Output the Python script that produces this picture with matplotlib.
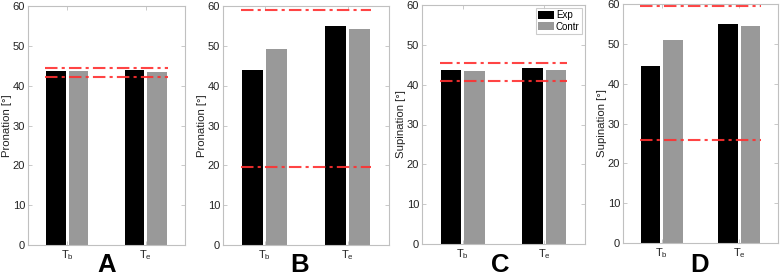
import matplotlib
matplotlib.use("Agg")
import matplotlib.pyplot as plt
import numpy as np

plt.rcParams['font.family'] = ['Liberation Sans', 'DejaVu Sans']
plt.rcParams['mathtext.fontset'] = 'custom'
plt.rcParams['mathtext.rm'] = 'Liberation Sans'

categories = [r'$\mathrm{T_b}$', r'$\mathrm{T_e}$']
series_names = ['Exp', 'Contr']
panel_letters = ['A', 'B', 'C', 'D']
ylabels = ['Pronation [°]', 'Pronation [°]', 'Supination [°]', 'Supination [°]']

exp_A = [43.6, 43.9]
contr_A = [43.6, 43.4]
ref_A = [44.4, 42.1]

exp_B = [44.0, 54.9]
contr_B = [49.3, 54.2]
ref_B = [59.0, 19.5]

exp_C = [43.8, 44.1]
contr_C = [43.4, 43.7]
ref_C = [45.4, 41.0]

exp_D = [44.4, 54.9]
contr_D = [51.0, 54.5]
ref_D = [59.6, 25.8]

panels = [(exp_A, contr_A, ref_A), (exp_B, contr_B, ref_B),
          (exp_C, contr_C, ref_C), (exp_D, contr_D, ref_D)]

W, H = 783, 278
fig = plt.figure(figsize=(W/100, H/100), dpi=100)

# axes boxes in pixels: left, right, top, bottom
boxes = [(28, 185, 6, 245), (223, 389, 6, 245), (422, 585, 5, 244), (623, 778, 4, 243)]
letter_x = [107, 300, 500, 700]
spine_col = '#c0c0c0'
x = np.arange(1, len(categories) + 1)
bw = 0.25
off = 0.145
for i, ((e, c, r), (l, rr, t, b)) in enumerate(zip(panels, boxes)):
    ax = fig.add_axes([l/W, 1 - b/H, (rr-l)/W, (b-t)/H])
    ax.bar(x - off, e, width=bw, color='black', label=series_names[0])
    ax.bar(x + off, c, width=bw, color='#999999', label=series_names[1])
    for rv in r:
        ax.plot([0.72, 2.28], [rv, rv], color='#ff3030', ls=(0, (6, 2, 1.5, 2)),
                lw=1.5, alpha=0.9, clip_on=False)
    ax.set_xlim(0.5, 2.5)
    ax.set_ylim(0, 60)
    ax.set_yticks(np.arange(0, 61, 10))
    ax.set_xticks(x)
    ax.set_xticklabels(categories)
    ax.tick_params(direction='in', top=True, right=True, colors=spine_col,
                   labelcolor='#222222', labelsize=8, length=3, width=0.6, pad=2)
    for s in ax.spines.values():
        s.set_color(spine_col)
        s.set_linewidth(0.8)
    ax.set_ylabel(ylabels[i], fontsize=8.2, color='#222222', labelpad=0.5)
    fig.text(letter_x[i] / W, 1 - 272/H, panel_letters[i], ha='center', va='baseline',
             fontsize=18.5, fontweight='bold', color='black')
    if i == 2:
        leg = ax.legend(loc='upper right', fontsize=7, frameon=True, fancybox=False,
                        handlelength=1.6, handleheight=0.9, borderpad=0.25,
                        labelspacing=0.15, handletextpad=0.2, borderaxespad=0.3)
        leg.get_frame().set_edgecolor(spine_col)
        leg.get_frame().set_linewidth(0.8)

fig.savefig('out.png', dpi=100)
